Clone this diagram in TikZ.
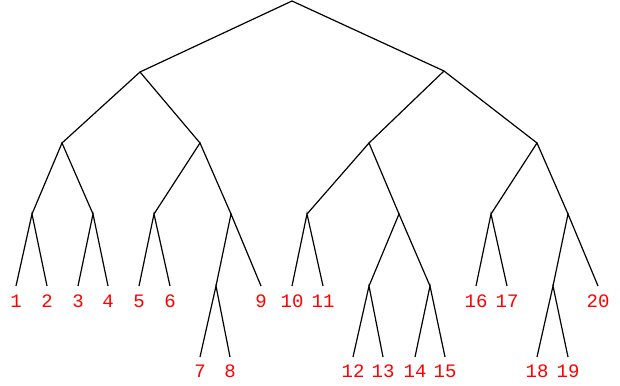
\documentclass[tikz,border=0pt]{standalone}
\usepackage{fontspec}
\newfontfamily\labelfont{Liberation Mono}
\begin{document}
\begin{tikzpicture}[x=1pt,y=-1pt,
  edge/.style={draw=black,line width=1.2pt},
  leaf/.style={text=red,font=\labelfont\fontsize{19}{19}\selectfont,anchor=base,inner sep=0pt}]
\useasboundingbox (0,0) rectangle (620,385);
% internal nodes
\coordinate (r) at (292,1);
\coordinate (a) at (140,72);
\coordinate (b) at (444,71);
\coordinate (aa) at (62,143);
\coordinate (ab) at (200,143);
\coordinate (ba) at (369,143);
\coordinate (bb) at (537,143);
\coordinate (aaa) at (32,214);
\coordinate (aab) at (93,214);
\coordinate (aba) at (154,214);
\coordinate (abb) at (231,214);
\coordinate (baa) at (307,214);
\coordinate (bab) at (399,214);
\coordinate (bba) at (491,214);
\coordinate (bbb) at (568,214);
\coordinate (abba) at (216,286);
\coordinate (baba) at (369,286);
\coordinate (babb) at (430,286);
\coordinate (bbba) at (553,286);
% leaf ends
\coordinate (e1) at (16,286);
\coordinate (e2) at (47,286);
\coordinate (e3) at (78,286);
\coordinate (e4) at (108,286);
\coordinate (e5) at (139,286);
\coordinate (e6) at (170,286);
\coordinate (e7) at (200,357);
\coordinate (e8) at (230,357);
\coordinate (e9) at (261,286);
\coordinate (e10) at (292,286);
\coordinate (e11) at (323,286);
\coordinate (e12) at (353,357);
\coordinate (e13) at (383,357);
\coordinate (e14) at (415,357);
\coordinate (e15) at (445,357);
\coordinate (e16) at (476,286);
\coordinate (e17) at (507,286);
\coordinate (e18) at (537,357);
\coordinate (e19) at (568,357);
\coordinate (e20) at (598,286);
% labels
\foreach \i in {1,2,3,4,5,6,9,10,11,16,17,20}
  \node[leaf] (l\i) at ([yshift=-21pt]e\i) {\i};
\foreach \i in {7,8,12,13,14,15,18,19}
  \node[leaf] (l\i) at ([yshift=-20pt]e\i) {\i};
% edges
\draw[edge] (a) -- (r) -- (b);
\draw[edge] (aa) -- (a) -- (ab);
\draw[edge] (ba) -- (b) -- (bb);
\draw[edge] (aaa) -- (aa) -- (aab);
\draw[edge] (aba) -- (ab) -- (abb);
\draw[edge] (baa) -- (ba) -- (bab);
\draw[edge] (bba) -- (bb) -- (bbb);
\draw[edge] (e1) -- (aaa) -- (e2);
\draw[edge] (e3) -- (aab) -- (e4);
\draw[edge] (e5) -- (aba) -- (e6);
\draw[edge] (abba) -- (abb) -- (e9);
\draw[edge] (e7) -- (abba) -- (e8);
\draw[edge] (e10) -- (baa) -- (e11);
\draw[edge] (baba) -- (bab) -- (babb);
\draw[edge] (e12) -- (baba) -- (e13);
\draw[edge] (e14) -- (babb) -- (e15);
\draw[edge] (e16) -- (bba) -- (e17);
\draw[edge] (bbba) -- (bbb) -- (e20);
\draw[edge] (e18) -- (bbba) -- (e19);
\end{tikzpicture}
\end{document}
